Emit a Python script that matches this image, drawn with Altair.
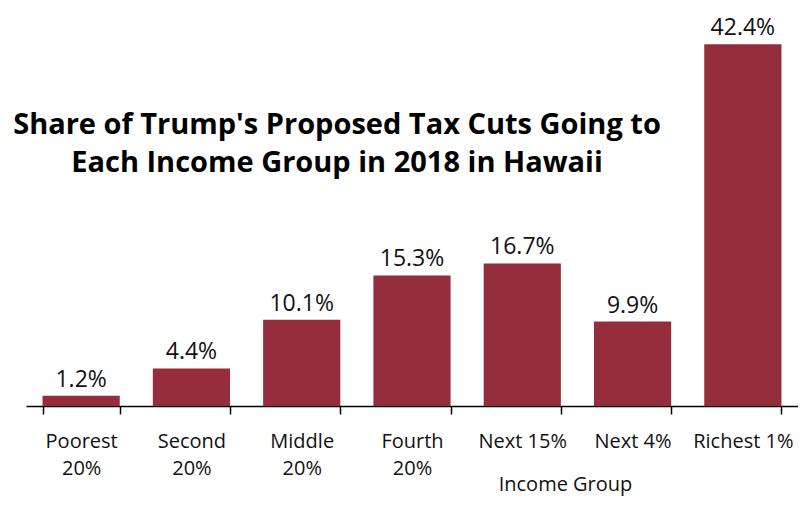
import altair as alt
import pandas as pd

groups = ["Poorest\n20%", "Second\n20%", "Middle\n20%", "Fourth\n20%", "Next 15%", "Next 4%", "Richest 1%"]
shares = [1.2, 4.4, 10.1, 15.3, 16.7, 9.9, 42.4]
value_labels = ["1.2%", "4.4%", "10.1%", "15.3%", "16.7%", "9.9%", "42.4%"]
title_lines = ["Share of Trump's Proposed Tax Cuts Going to", "Each Income Group in 2018 in Hawaii"]

df = pd.DataFrame({"group": groups, "share": shares, "label": value_labels})

FONT = "Open Sans"
COLOR = "#952D3C"

x = alt.X("group:N", sort=groups, title="Income Group",
          scale=alt.Scale(paddingInner=0.3, paddingOuter=0.15),
          axis=alt.Axis(labelAngle=0, labelExpr="split(datum.label, '\\n')",
                        tickBand="extent", tickSize=8, tickColor="#000", domainColor="#000",
                        tickWidth=1.5, domainWidth=1.5,
                        labelFont=FONT, labelFontSize=20, labelColor="#111",
                        labelPadding=17, labelLineHeight=27, labelBaseline="top",
                        titleFont=FONT, titleFontSize=20, titleFontWeight="normal", titleColor="#111",
                        titleX=539, titleY=78, titleBaseline="middle", titleAlign="center"))
y = alt.Y("share:Q", scale=alt.Scale(domain=[0, 45]), axis=None)

bars = alt.Chart(df).mark_bar(color=COLOR).encode(x=x, y=y)
text = alt.Chart(df).mark_text(font=FONT, fontSize=23, baseline="bottom", dy=-4, color="#111").encode(
    x=alt.X("group:N", sort=groups), y="share:Q", text="label:N")

chart = alt.layer(bars, text).properties(
    width=772, height=384,
    autosize=alt.AutoSizeParams(type="none"),
    padding={"left": 18, "top": 14, "right": 0, "bottom": 92},
    title=alt.TitleParams(text=title_lines, font=FONT, fontSize=29, fontWeight="bold", color="#000",
                          anchor="middle", dx=-75, dy=165, lineHeight=38, baseline="top"),
).configure_view(stroke=None)

chart.save("out.html", embed_options={"renderer": "svg", "actions": False})
